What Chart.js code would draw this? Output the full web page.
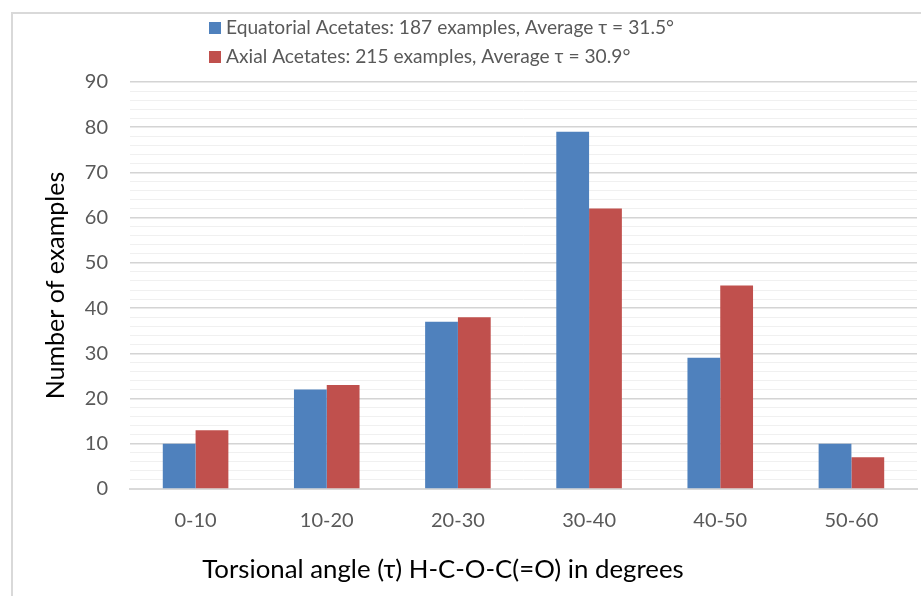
<!DOCTYPE html>
<html>
<head>
<meta charset="utf-8">
<script src="https://cdn.jsdelivr.net/npm/chart.js@4"></script>
<style>
  html, body { margin: 0; padding: 0; background: #fff; }
  #wrap { width: 921px; height: 596px; }
</style>
</head>
<body>
<div id="wrap"><canvas id="grafico" width="921" height="596"></canvas></div>
<script>
var categories = ['0-10', '10-20', '20-30', '30-40', '40-50', '50-60'];
var equatorial = [10, 22, 37, 79, 29, 10];
var axial = [13, 23, 38, 62, 45, 7];
var seriesNames = [
  'Equatorial Acetates: 187 examples, Average \u03c4 = 31.5\u00b0',
  'Axial Acetates: 215 examples, Average \u03c4 = 30.9\u00b0'
];
var yTicks = [0, 10, 20, 30, 40, 50, 60, 70, 80, 90];
var xTitle = 'Torsional angle (\u03c4) H-C-O-C(=O) in degrees';
var yTitle = 'Number of examples';

var fontName = 'Lato, "Open Sans", sans-serif';
var grey = '#595959';

// frame, legend and x title drawn by hand (Excel style placement)
var frameLegend = {
  id: 'frameLegend',
  beforeDraw: function(chart) {
    var ctx = chart.ctx;
    ctx.save();
    ctx.fillStyle = '#fff';
    ctx.fillRect(0, 0, chart.width, chart.height);
    ctx.strokeStyle = '#d9d9d9';
    ctx.lineWidth = 2;
    ctx.strokeRect(12, 13, 2000, 2000);
    ctx.restore();
  },
  afterDraw: function(chart) {
    var ctx = chart.ctx;
    ctx.save();
    ctx.font = '19.2px ' + fontName;
    ctx.textBaseline = 'middle';
    chart.data.datasets.forEach(function(ds, i) {
      var y = 28 + i * 29;
      ctx.fillStyle = ds.backgroundColor;
      ctx.fillRect(209, y - 6, 12, 12);
      ctx.fillStyle = grey;
      ctx.fillText(ds.label, 226, y);
    });
    ctx.font = '25.8px ' + fontName;
    ctx.fillStyle = '#000';
    ctx.textAlign = 'center';
    ctx.fillText(xTitle, 443, 570);
    ctx.restore();
  }
};

var ctx = document.getElementById('grafico').getContext('2d');
var chart = new Chart(ctx, {
  type: 'bar',
  data: {
    labels: categories,
    datasets: [
      { label: seriesNames[0], data: equatorial, backgroundColor: '#4F81BD' },
      { label: seriesNames[1], data: axial, backgroundColor: '#C0504D' }
    ]
  },
  options: {
    responsive: false,
    animation: false,
    layout: { padding: { top: 82, right: 4, left: 30, bottom: 0 } },
    plugins: {
      legend: { display: false },
      tooltip: { enabled: false }
    },
    datasets: {
      bar: { categoryPercentage: 0.5, barPercentage: 1.0 }
    },
    scales: {
      x: {
        grid: { display: false },
        border: { color: '#d9d9d9', width: 2 },
        ticks: { color: grey, font: { family: fontName, size: 20 }, padding: 12 },
        afterFit: function(scale) { scale.height = 107; }
      },
      y: {
        min: 0,
        max: 90,
        ticks: {
          stepSize: 2,
          autoSkip: false,
          color: grey,
          font: { family: fontName, size: 20 },
          padding: 22,
          callback: function(v) { return yTicks.indexOf(v) >= 0 ? v : ''; }
        },
        grid: {
          drawTicks: false,
          color: function(c) { return c.tick.value % 10 === 0 ? '#d4d4d4' : '#f0f0f0'; },
          lineWidth: function(c) { return c.tick.value % 10 === 0 ? 1.5 : 1; }
        },
        border: { display: false },
        title: {
          display: true,
          text: yTitle,
          color: '#000',
          font: { family: fontName, size: 25 },
          padding: { top: 11, bottom: 0 }
        },
        afterFit: function(scale) { scale.width = 100; }
      }
    }
  },
  plugins: [frameLegend]
});
</script>
</body>
</html>
